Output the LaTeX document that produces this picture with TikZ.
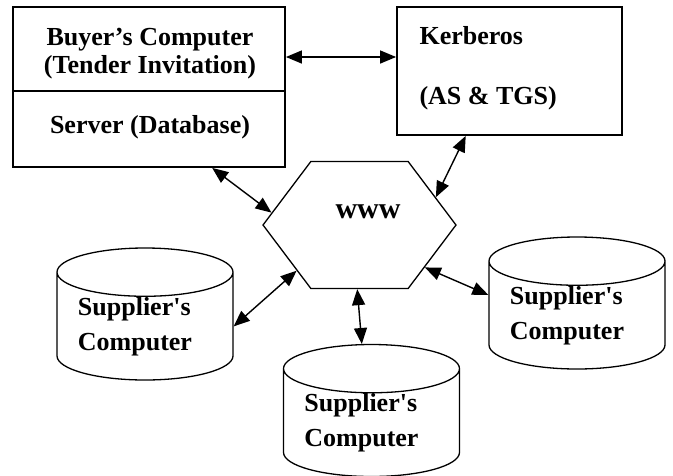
\documentclass[tikz,border=0pt]{standalone}
\usepackage{fontspec}
\setmainfont{Liberation Serif}
\usetikzlibrary{arrows.meta,shapes.geometric,shapes.symbols,calc}

\begin{document}
\begin{tikzpicture}[x=1pt,y=-1pt,font=\bfseries\fontsize{26}{35}\selectfont]
  \tikzstyle{box}=[draw, line width=1.8pt, inner sep=0pt]
  \tikzstyle{db}=[draw, cylinder, shape border rotate=90, aspect=0.36, line width=1.3pt, align=left, inner sep=0pt, minimum width=176, minimum height=132, anchor=shape center]
  \tikzstyle{conn}=[{Triangle[length=16pt,width=13pt]}-{Triangle[length=16pt,width=13pt]}, line width=1.4pt]
  \useasboundingbox (0,0) rectangle (673,475);

  % boxes at the top
  \node[box, minimum width=272, minimum height=160] (buyer) at (149,87) {};
  \node[box, minimum width=225, minimum height=128] (kerb) at (509.5,71) {};
  \draw[line width=1.8pt] (buyer.west |- 0,91) -- (buyer.east |- 0,91);
  \node[align=center] (buyertxt) at (150,54) {Buyer’s Computer\\[-7pt](Tender Invitation)};
  \node (servertxt) at (150,127) {Server (Database)};
  \node[anchor=west] (kerbtxt) at (416,36) {Kerberos};
  \node[anchor=west] (astxt) at (416,98) {(AS \& TGS)};

  % the web
  \node[draw, signal, signal to=east and west, signal pointer angle=106, line width=1.3pt,
        minimum width=193, minimum height=127, inner sep=0pt] (www) at (359.5,225) {};
  \node[font=\bfseries\fontsize{30}{30}\selectfont] (wwwtxt) at (368,212) {www};

  % suppliers
  \node[db] (supA) at (145,314) {Supplier\textquotesingle s\\Computer\hspace*{20pt}};
  \node[db] (supB) at (577,303) {Supplier\textquotesingle s\\Computer\hspace*{20pt}};
  \node[db] (supC) at (371.5,410.5) {Supplier\textquotesingle s\\Computer\hspace*{20pt}};

  \draw[conn] (buyer.east |- 0,57) -- (kerb.west |- 0,57);
  \draw[conn] (buyer.308) -- (www.172);
  \draw[conn] (kerb.236) -- (www.20);
  \draw[conn] (www.216) -- (supA.east);
  \draw[conn] (www.327) -- (supB.167);
  \draw[conn] (www.268) -- (supC.97);
\end{tikzpicture}
\end{document}
